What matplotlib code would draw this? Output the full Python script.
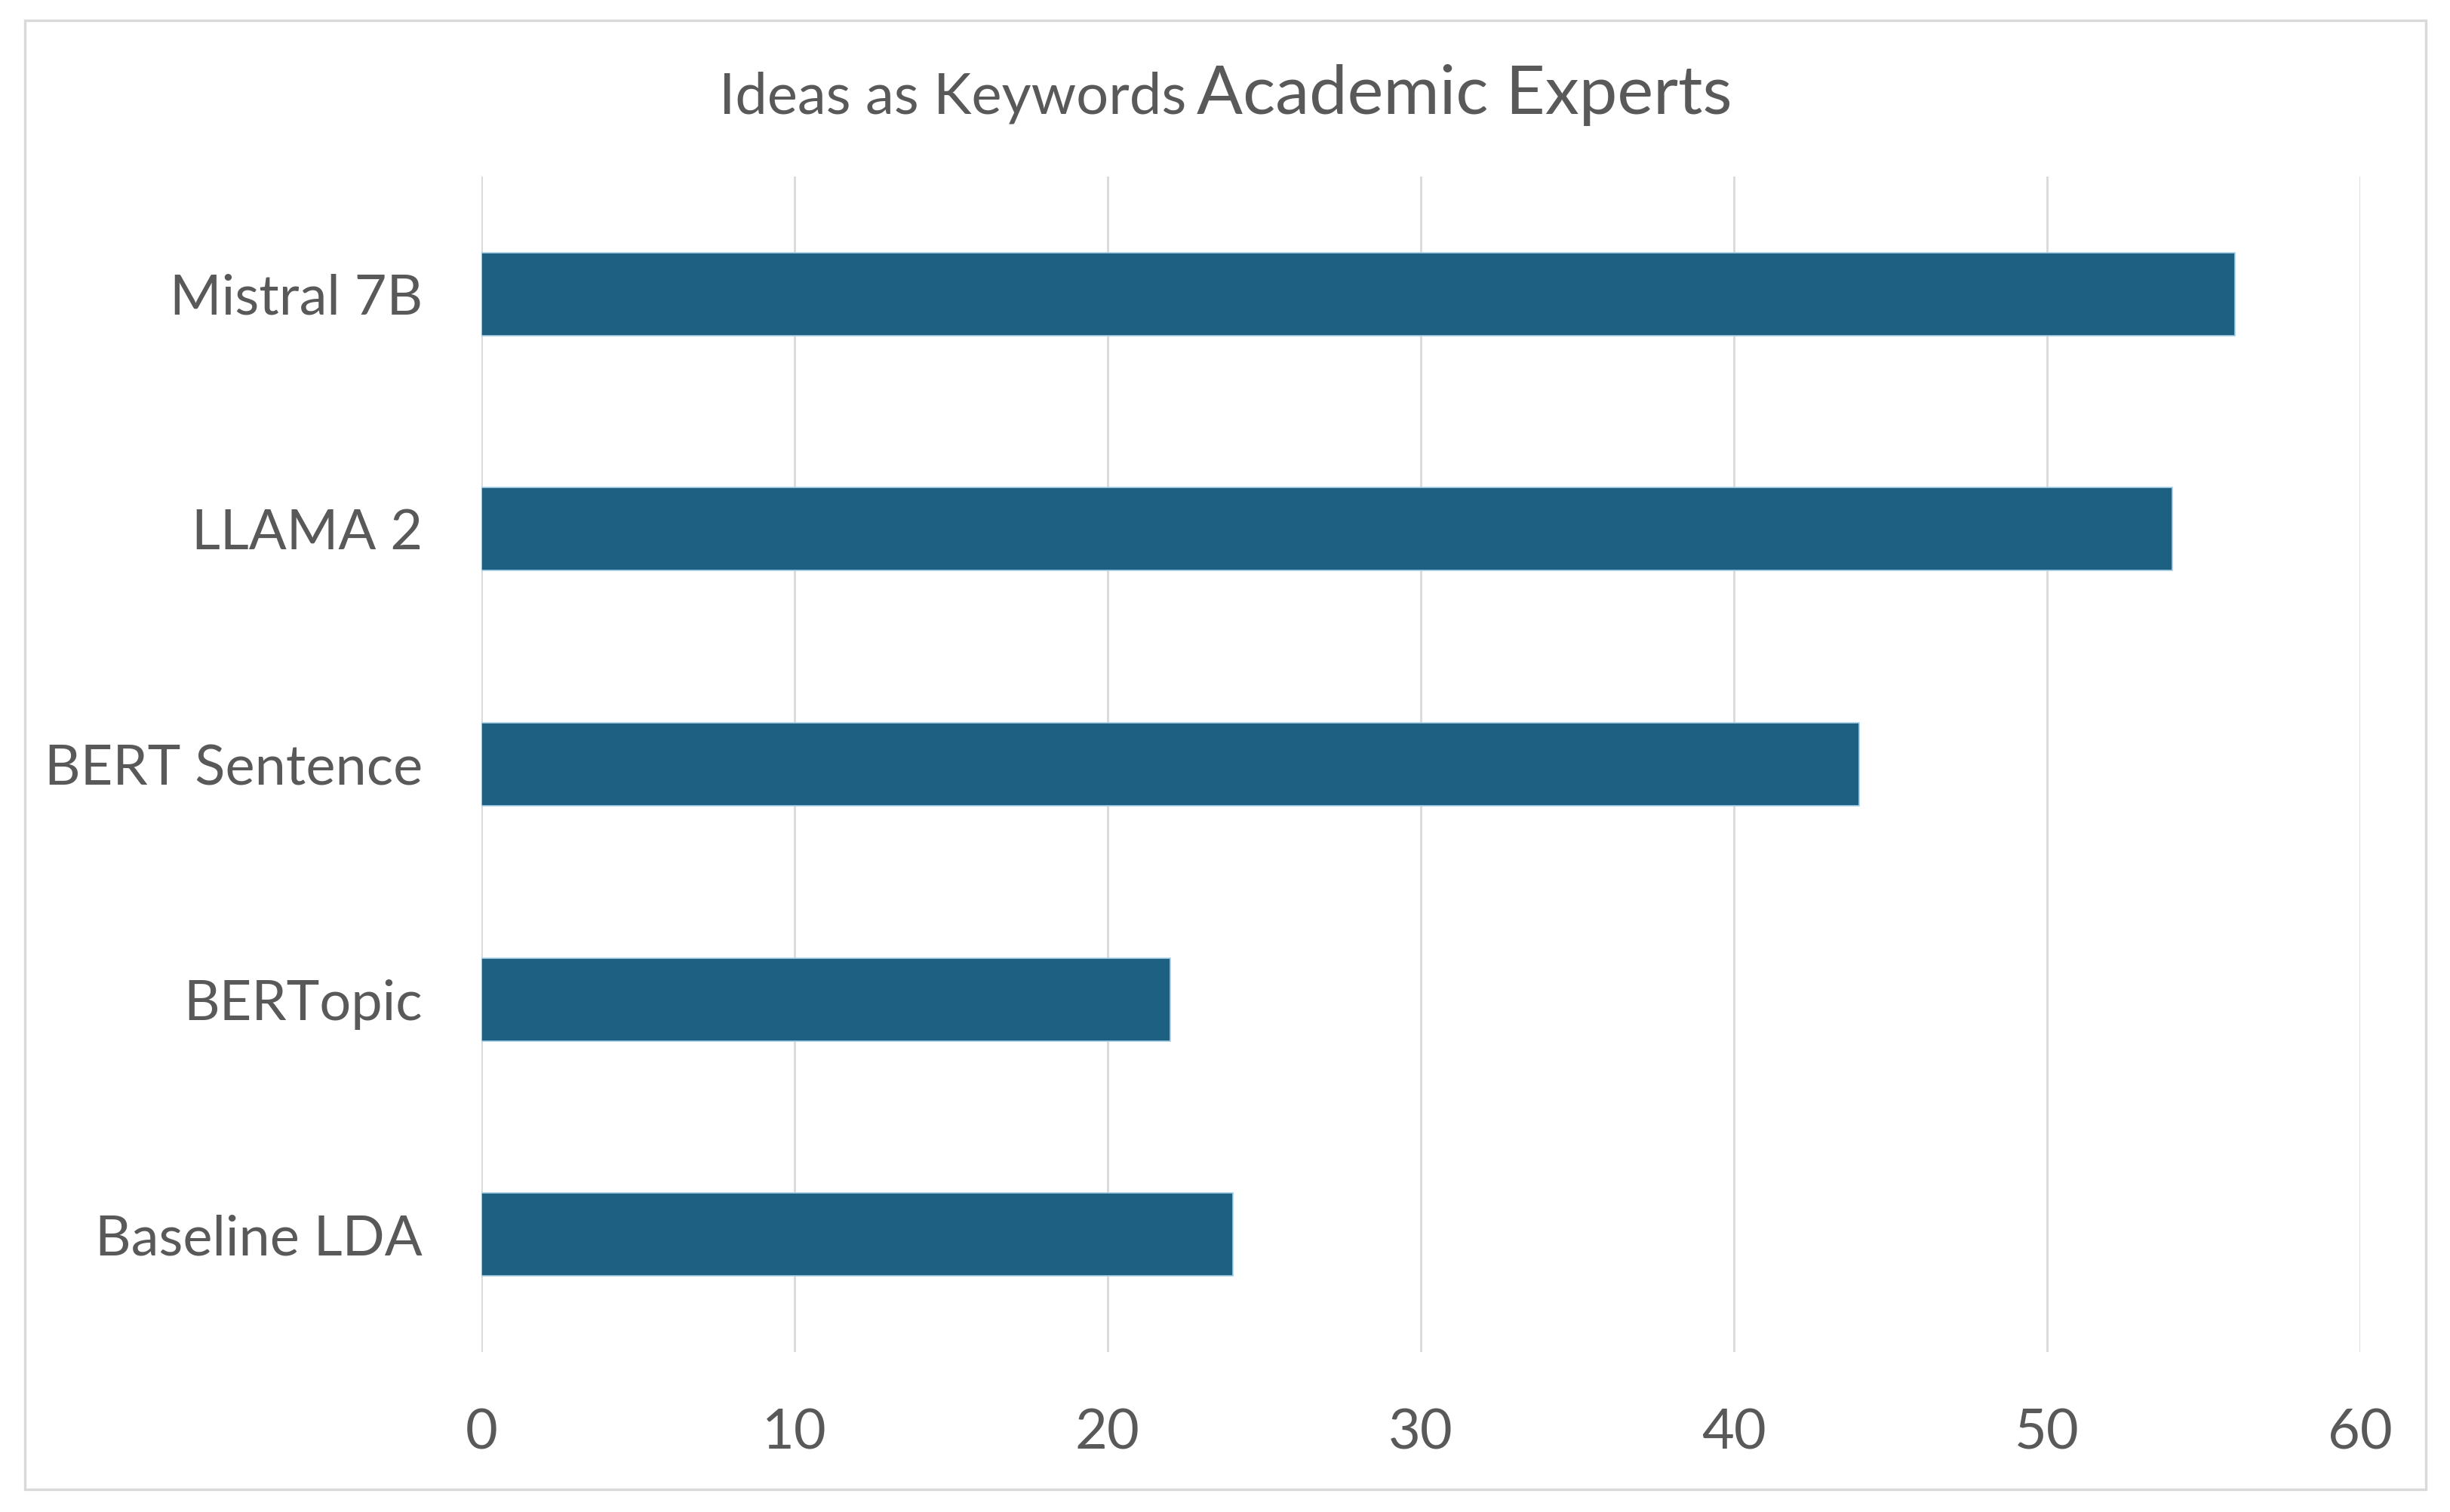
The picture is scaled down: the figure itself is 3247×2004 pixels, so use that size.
import matplotlib.pyplot as plt
from matplotlib.patches import Rectangle

models = ["Baseline LDA", "BERTopic", "BERT Sentence", "LLAMA 2", "Mistral 7B"]
scores = [24, 22, 44, 54, 56]
xticks = [0, 10, 20, 30, 40, 50, 60]

text_col = "#595959"
bar_col = "#1d6082"
grid_col = "#d9d9d9"
font = "Lato"

fig = plt.figure(figsize=(16.24, 10.02), dpi=200)
ax = fig.add_axes([0.1964, 0.1058, 0.963 - 0.1964, 0.8832 - 0.1058])

ax.barh(range(len(models)), scores, height=0.353, color=bar_col,
        edgecolor="#a9cfe6", linewidth=0.6, zorder=3)
ax.set_xlim(0, 60)
ax.set_ylim(-0.5, len(models) - 0.5)
ax.set_xticks(xticks)
ax.set_yticks(range(len(models)))
ax.set_yticklabels(models)
ax.tick_params(axis="both", length=0, labelsize=26.6, labelcolor=text_col)
ax.tick_params(axis="x", pad=27)
ax.tick_params(axis="y", pad=28)
for lab in ax.get_xticklabels() + ax.get_yticklabels():
    lab.set_fontfamily(font)
for lab in ax.get_yticklabels():
    lab.set_y(lab.get_position()[1])
ax.grid(axis="x", color=grid_col, linewidth=1.0, zorder=0)
for s in ax.spines.values():
    s.set_visible(False)

# outer chart border
W, H = 3248, 2004
fig.patches.append(Rectangle((33 / W, 1 - 1974 / H), (3215 - 33) / W, (1974 - 27) / H,
                             transform=fig.transFigure, fill=False,
                             edgecolor=grid_col, linewidth=1.2))

# two-part title, centered together
y_base = 1 - 151 / H
t1 = fig.text(0, y_base, "Ideas as Keywords", fontsize=27.3, color=text_col,
              fontfamily=font, va="baseline", ha="left")
t2 = fig.text(0, y_base, "Academic Experts", fontsize=32.5, color=text_col,
              fontfamily=font, va="baseline", ha="left")
fig.canvas.draw()
r = fig.canvas.get_renderer()
w1 = t1.get_window_extent(r).width / W
w2 = t2.get_window_extent(r).width / W
gap = 14 / W
x0 = 0.5 - (w1 + gap + w2) / 2
t1.set_x(x0)
t2.set_x(x0 + w1 + gap)

fig.savefig("out.png", dpi=200)
